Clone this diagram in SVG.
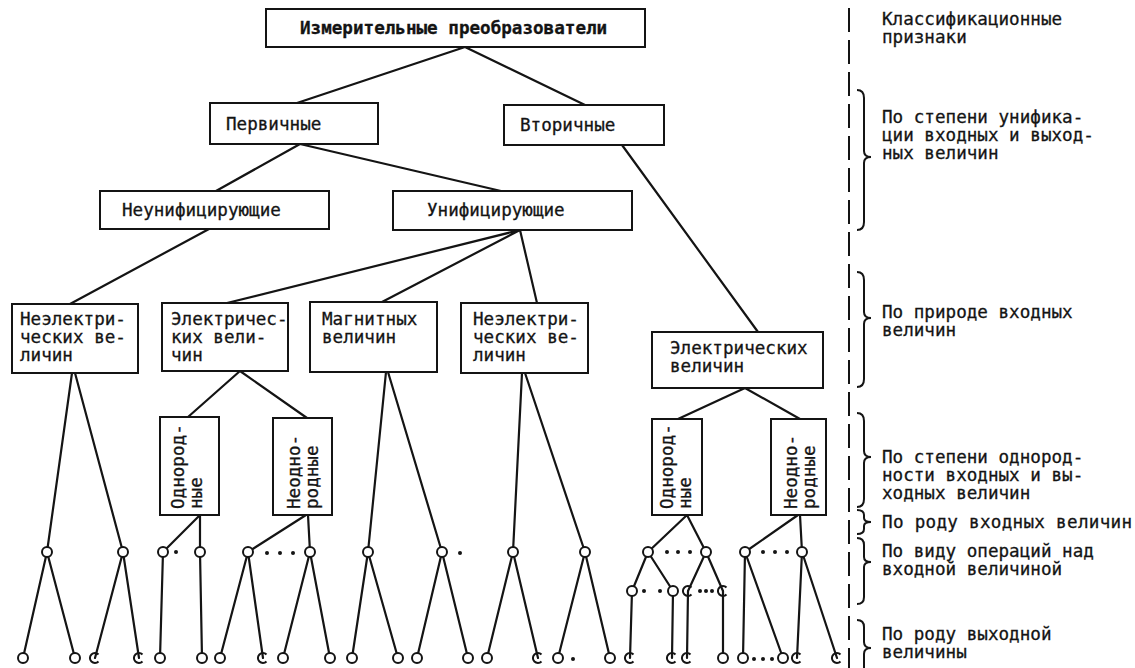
<svg xmlns="http://www.w3.org/2000/svg" width="1135" height="668" viewBox="0 0 1135 668">
<style>
.box{fill:#fff;stroke:#141414;stroke-width:2}
.t{font-family:"DejaVu Sans Mono","Liberation Mono",monospace;font-size:17.6px;fill:#141414;stroke:#141414;stroke-width:0.3}
.r{font-family:"DejaVu Sans Mono","Liberation Mono",monospace;font-size:17.6px;fill:#141414;stroke:#141414;stroke-width:0.3}
.b{font-weight:bold}
.ln{stroke:#141414;stroke-width:2.2;fill:none;stroke-linecap:round}
.pt{fill:#fff;stroke:#141414;stroke-width:2}
.arc{fill:none;stroke:#141414;stroke-width:2}
.dot{fill:#141414}
.br{fill:none;stroke:#141414;stroke-width:2}
.dash{stroke:#141414;stroke-width:2;stroke-dasharray:24 8}
</style>
<rect width="1135" height="668" fill="#fff"/>

<g id="connectors">
<path class="ln" d="M465,47 L297,103 M465,47 L585,105"/>
<path class="ln" d="M300,144 L216,191 M300,144 L501,191"/>
<path class="ln" d="M622,145 L758,332"/>
<path class="ln" d="M209,229 L70,304"/>
<path class="ln" d="M520,230 L227,303 M520,230 L382,302 M520,230 L537,303"/>
<path class="ln" d="M240,371 L188,417 M240,371 L307,418"/>
<path class="ln" d="M745,388 L678,419 M745,388 L800,419"/>
<path class="ln" d="M72,373 L47,552 M75,373 L123,552 M47,552 L23,658 M47,552 L75,658 M123,552 L95,658 M123,552 L139,658"/>
<path class="ln" d="M200,515 L163,552 M200,515 L200,552 M306,515 L248,552 M308,515 L310,552"/>
<path class="ln" d="M163,552 L160,658 M200,552 L202,658 M248,552 L220,658 M248,552 L263,658 M310,552 L283,658 M310,552 L330,658"/>
<path class="ln" d="M386,372 L368,552 M388,372 L442,552 M368,552 L352,658 M368,552 L398,658 M442,552 L417,658 M442,552 L468,658"/>
<path class="ln" d="M522,373 L513,552 M525,373 L585,552 M513,552 L487,658 M513,552 L538,658 M585,552 L558,658 M585,552 L610,658"/>
<path class="ln" d="M687,515 L648,552 M687,515 L706,552 M798,515 L745,552 M800,515 L802,552"/>
<path class="ln" d="M648,552 L632,591 M648,552 L673,591 M706,552 L688,591 M706,552 L723,591"/>
<path class="ln" d="M632,591 L630,658 M673,591 L672,658 M688,591 L687,658 M723,591 L723,658"/>
<path class="ln" d="M745,552 L743,658 M745,552 L783,658 M802,552 L797,658 M802,552 L837,658"/>
</g>

<g id="n-root"><rect class="box" x="266" y="9" width="379" height="38"/><text class="t b" x="300" y="34">Измерительные преобразователи</text></g>
<g id="n-primary"><rect class="box" x="210" y="103" width="168" height="41"/><text class="t" x="226" y="130">Первичные</text></g>
<g id="n-secondary"><rect class="box" x="504" y="105" width="160" height="40"/><text class="t" x="520" y="131">Вторичные</text></g>
<g id="n-nonunif"><rect class="box" x="100" y="191" width="229" height="38"/><text class="t" x="122" y="216">Неунифицирующие</text></g>
<g id="n-unif"><rect class="box" x="393" y="191" width="239" height="39"/><text class="t" x="427" y="216">Унифицирующие</text></g>

<g id="n-nonel-1"><rect class="box" x="12" y="304" width="126" height="69"/><text class="t"><tspan x="20" y="325">Неэлектри-</tspan><tspan x="20" y="343">ческих ве-</tspan><tspan x="20" y="361">личин</tspan></text></g>
<g id="n-el-1"><rect class="box" x="162" y="303" width="126" height="68"/><text class="t"><tspan x="171" y="325">Электричес-</tspan><tspan x="171" y="343">ких вели-</tspan><tspan x="171" y="361">чин</tspan></text></g>
<g id="n-magn"><rect class="box" x="310" y="302" width="127" height="70"/><text class="t"><tspan x="322" y="325">Магнитных</tspan><tspan x="322" y="343">величин</tspan></text></g>
<g id="n-nonel-2"><rect class="box" x="461" y="303" width="127" height="70"/><text class="t"><tspan x="473" y="325">Неэлектри-</tspan><tspan x="473" y="343">ческих ве-</tspan><tspan x="473" y="361">личин</tspan></text></g>
<g id="n-el-2"><rect class="box" x="652" y="332" width="171" height="56"/><text class="t"><tspan x="670" y="354">Электрических</tspan><tspan x="670" y="372">величин</tspan></text></g>

<g id="n-homo-1"><rect class="box" x="160" y="417" width="59" height="98"/><text class="t" transform="translate(184,509) rotate(-90)"><tspan x="0" y="0">Однород-</tspan><tspan x="0" y="18">ные</tspan></text></g>
<g id="n-hetero-1"><rect class="box" x="273" y="418" width="59" height="97"/><text class="t" transform="translate(300,509) rotate(-90)"><tspan x="0" y="0">Неодно-</tspan><tspan x="0" y="18">родные</tspan></text></g>
<g id="n-homo-2"><rect class="box" x="652" y="419" width="50" height="96"/><text class="t" transform="translate(673,509) rotate(-90)"><tspan x="0" y="0">Однород-</tspan><tspan x="0" y="18">ные</tspan></text></g>
<g id="n-hetero-2"><rect class="box" x="771" y="419" width="55" height="96"/><text class="t" transform="translate(797,509) rotate(-90)"><tspan x="0" y="0">Неодно-</tspan><tspan x="0" y="18">родные</tspan></text></g>

<g id="points-top">
<circle class="pt" cx="47" cy="552" r="5"/><circle class="pt" cx="123" cy="552" r="5"/>
<circle class="pt" cx="163" cy="552" r="5"/><circle class="dot" cx="176" cy="552" r="2"/><circle class="pt" cx="200" cy="552" r="5"/>
<circle class="pt" cx="248" cy="552" r="5"/><circle class="dot" cx="267" cy="553" r="2"/><circle class="dot" cx="280" cy="553" r="2"/><circle class="dot" cx="293" cy="553" r="2"/><circle class="pt" cx="310" cy="552" r="5"/>
<circle class="pt" cx="368" cy="552" r="5"/><circle class="pt" cx="442" cy="552" r="5"/><circle class="dot" cx="460" cy="553" r="2"/>
<circle class="pt" cx="513" cy="552" r="5"/><circle class="pt" cx="585" cy="552" r="5"/>
<circle class="pt" cx="648" cy="552" r="5"/><circle class="dot" cx="667" cy="552" r="2"/><circle class="dot" cx="678" cy="552" r="2"/><circle class="dot" cx="690" cy="552" r="2"/><circle class="pt" cx="706" cy="552" r="5"/>
<circle class="pt" cx="745" cy="552" r="5"/><circle class="dot" cx="763" cy="552" r="2"/><circle class="dot" cx="775" cy="552" r="2"/><circle class="dot" cx="787" cy="552" r="2"/><circle class="pt" cx="802" cy="552" r="5"/>
</g>
<g id="points-mid">
<circle class="pt" cx="632" cy="591" r="5"/><circle class="dot" cx="644" cy="591" r="2"/><circle class="dot" cx="660" cy="591" r="2"/><circle class="pt" cx="673" cy="591" r="5"/>
<path class="arc" d="M691.5,587.5 A5,5 0 1 0 691.5,594.5"/><circle class="dot" cx="700" cy="591" r="2"/><circle class="dot" cx="706" cy="591" r="2"/><circle class="dot" cx="712" cy="591" r="2"/><path class="arc" d="M726.5,587.5 A5,5 0 1 0 726.5,594.5"/>
</g>
<g id="points-bottom">
<circle class="pt" cx="23" cy="658" r="5"/><circle class="pt" cx="75" cy="658" r="5"/>
<path class="arc" d="M98.5,654.5 A5,5 0 1 0 98.5,661.5"/><path class="arc" d="M142.5,654.5 A5,5 0 1 0 142.5,661.5"/>
<circle class="pt" cx="160" cy="658" r="5"/><circle class="pt" cx="202" cy="658" r="5"/><circle class="pt" cx="220" cy="658" r="5"/>
<path class="arc" d="M266.5,654.5 A5,5 0 1 0 266.5,661.5"/>
<circle class="pt" cx="283" cy="658" r="5"/><circle class="pt" cx="330" cy="658" r="5"/>
<circle class="pt" cx="352" cy="658" r="5"/><circle class="pt" cx="398" cy="658" r="5"/><circle class="pt" cx="417" cy="658" r="5"/><circle class="pt" cx="468" cy="658" r="5"/>
<circle class="pt" cx="487" cy="658" r="5"/><path class="arc" d="M541.5,654.5 A5,5 0 1 0 541.5,661.5"/>
<circle class="pt" cx="558" cy="658" r="5"/><circle class="dot" cx="573" cy="659" r="2"/><circle class="pt" cx="610" cy="658" r="5"/>
<path class="arc" d="M633.5,654.5 A5,5 0 1 0 633.5,661.5"/><path class="arc" d="M675.5,654.5 A5,5 0 1 0 675.5,661.5"/><path class="arc" d="M690.5,654.5 A5,5 0 1 0 690.5,661.5"/>
<circle class="pt" cx="723" cy="658" r="5"/><circle class="pt" cx="743" cy="658" r="5"/><circle class="dot" cx="754" cy="659" r="2"/><circle class="dot" cx="763" cy="659" r="2"/><circle class="dot" cx="772" cy="659" r="2"/><circle class="pt" cx="783" cy="658" r="5"/>
<path class="arc" d="M800.5,654.5 A5,5 0 1 0 800.5,661.5"/><path class="arc" d="M840.5,654.5 A5,5 0 1 0 840.5,661.5"/>
</g>

<g id="criteria">
<line class="dash" x1="849" y1="8" x2="849" y2="668"/>
<text class="r"><tspan x="882" y="25">Классификационные</tspan><tspan x="882" y="43">признаки</tspan></text>
<path class="br" d="M857,90 Q864,90 864,98 L864,151 Q864,157 871,157 Q864,157 864,163 L864,222 Q864,230 857,230"/>
<text class="r"><tspan x="882" y="123">По степени унифика-</tspan><tspan x="882" y="141">ции входных и выход-</tspan><tspan x="882" y="159">ных величин</tspan></text>
<path class="br" d="M857,272 Q864,272 864,280 L864,312 Q864,318 871,318 Q864,318 864,324 L864,379 Q864,387 857,387"/>
<text class="r"><tspan x="882" y="318">По природе входных</tspan><tspan x="882" y="336">величин</tspan></text>
<path class="br" d="M857,413 Q864,413 864,421 L864,451 Q864,457 871,457 Q864,457 864,463 L864,499 Q864,507 857,507"/>
<text class="r"><tspan x="882" y="463">По степени однород-</tspan><tspan x="882" y="481">ности входных и вы-</tspan><tspan x="882" y="499">ходных величин</tspan></text>
<path class="br" d="M857,510 Q864,510 864,515 L864,518 Q864,522 871,522 Q864,522 864,526 L864,529 Q864,534 857,534"/>
<text class="r" x="882" y="528" textLength="250">По роду входных величин</text>
<path class="br" d="M857,538 Q864,538 864,545 L864,557 Q864,562 871,562 Q864,562 864,567 L864,597 Q864,604 857,604"/>
<text class="r"><tspan x="882" y="557">По виду операций над</tspan><tspan x="882" y="575">входной величиной</tspan></text>
<path class="br" d="M857,620 Q864,620 864,627 L864,642 Q864,648 871,648 Q864,648 864,654 L864,668"/>
<text class="r"><tspan x="882" y="640">По роду выходной</tspan><tspan x="882" y="658">величины</tspan></text>
</g>
</svg>
